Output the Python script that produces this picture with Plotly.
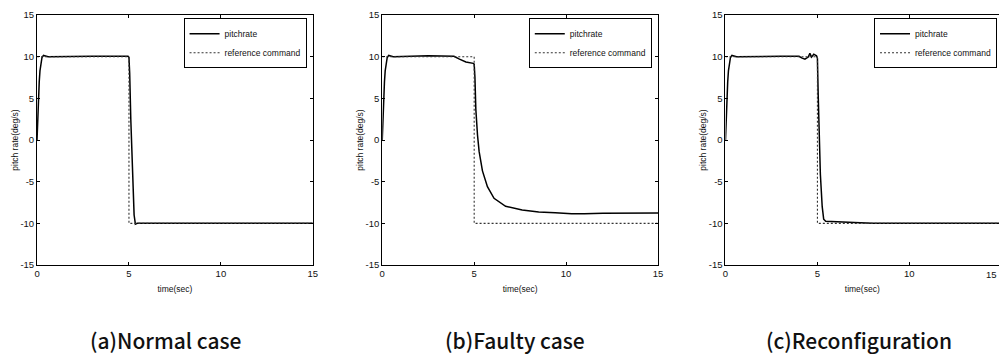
import plotly.graph_objects as go

# ---------------- data ----------------
t_ref = [0, 5, 5, 15]
q_ref = [10, 10, -10, -10]

t_normal = [0, 0.03, 0.07, 0.12, 0.16, 0.22, 0.27, 0.35, 0.45, 0.6, 3.0, 4.95, 5.0, 5.04,
            5.1, 5.2, 5.28, 5.35, 5.45, 6.0, 10.0, 15.0]
q_normal = [0, 2.5, 4.8, 7.0, 8.3, 9.3, 9.9, 10.15, 10.1, 10.0, 10.05, 10.05, 9.9, 8.0,
            2.5, -5.5, -9.0, -10.1, -10.0, -10.0, -10.0, -10.0]

t_faulty = [0, 0.03, 0.07, 0.12, 0.16, 0.22, 0.27, 0.35, 0.45, 0.6, 2.5, 3.9, 4.2, 4.55,
            4.95, 5.0, 5.04, 5.09, 5.18, 5.27, 5.45, 5.72, 6.08, 6.71, 7.61, 8.51, 9.41,
            10.3, 11.0, 12.0, 15.0]
q_faulty = [0, 2.5, 4.8, 7.0, 8.3, 9.3, 9.9, 10.15, 10.1, 10.0, 10.1, 10.05, 9.7, 9.37,
            9.2, 9.1, 7.6, 3.7, 0.6, -1.4, -3.7, -5.6, -7.0, -7.95, -8.4, -8.65, -8.72,
            -8.85, -8.85, -8.8, -8.75]

t_reconf = [0, 0.03, 0.07, 0.12, 0.16, 0.22, 0.27, 0.35, 0.45, 0.6, 3.0, 4.0, 4.14, 4.32,
            4.5, 4.59, 4.68, 4.8, 4.95, 5.0, 5.04, 5.09, 5.16, 5.26, 5.34, 5.45, 5.8, 6.3,
            7.0, 8.0, 15.0]
q_reconf = [0, 2.5, 4.8, 7.0, 8.3, 9.3, 9.9, 10.15, 10.1, 10.0, 10.05, 10.05, 9.85, 9.7,
            9.95, 10.4, 9.95, 10.3, 10.1, 9.8, 5.6, -0.2, -4.1, -8.0, -9.5, -9.75, -9.8,
            -9.8, -9.9, -10.0, -10.0]

panels = [(t_normal, q_normal), (t_faulty, q_faulty), (t_reconf, q_reconf)]
captions = ["(a)Normal case", "(b)Faulty case", "(c)Reconfiguration"]
x_ticks = [0, 5, 10, 15]
y_ticks = [-15, -10, -5, 0, 5, 10, 15]
y_tick_text = ["-15", "-10", "-5", "0", "5", "10", "15"]
series_names = ["pitchrate", "reference command"]

# ---------------- layout geometry (pixels) ----------------
W, H = 1004, 355
x_left_px = [34.3, 382.3, 728.3]
plot_w_px = 278.0
y_top_px, y_bot_px = 9.3, 267.3
legend_right_px = [306, 654, 1002]
caption_x_px = [164, 516, 863]
caption_y_px = 345

SANS = "Liberation Sans Narrow, Liberation Sans, Arial"
TICK_FONT = dict(family=SANS, size=9.5, color="#111")
TITLE_FONT = dict(family=SANS, size=8.5, color="#111")

fig = go.Figure()

layout = dict(
    width=W, height=H,
    margin=dict(l=0, r=0, t=0, b=0),
    paper_bgcolor="white", plot_bgcolor="white",
    showlegend=True,
)

annotations = []
for i, (t, q) in enumerate(panels):
    n = "" if i == 0 else str(i + 1)
    xa, ya = "x" + n, "y" + n
    leg = "legend" + n
    fig.add_trace(go.Scatter(x=t, y=q, mode="lines", name=series_names[0],
                             line=dict(color="black", width=1.5),
                             xaxis=xa, yaxis=ya, legend=leg))
    fig.add_trace(go.Scatter(x=t_ref, y=q_ref, mode="lines", name=series_names[1],
                             line=dict(color="#333", width=1.1, dash="2px,2px"),
                             xaxis=xa, yaxis=ya, legend=leg))

    x0 = x_left_px[i] / W
    x1_px = x_left_px[i] + plot_w_px
    clipped = x1_px > W
    if not clipped:
        dom = [x0, x1_px / W]
        xr = [0, 15]
    else:
        dom = [x0, 1.0]
        xr = [0, 15 * (W - x_left_px[i]) / plot_w_px]
        # last tick label "15" sits at the page edge (kept fully visible)
        annotations.append(dict(text="15", xref="paper", yref="paper",
                                x=1.0, y=1 - (y_bot_px + 2) / H,
                                xanchor="right", yanchor="top", showarrow=False,
                                font=TICK_FONT))

    axis_common = dict(showline=True, linecolor="black", linewidth=1,
                       ticks="inside", ticklen=3, tickwidth=1, tickcolor="black",
                       showgrid=False, zeroline=False, tickfont=TICK_FONT)
    layout["xaxis" + n] = dict(domain=dom, range=xr, anchor=ya, tickvals=x_ticks,
                               mirror="ticks",
                               title=dict(text="time(sec)", font=TITLE_FONT, standoff=7),
                               **axis_common)
    layout["yaxis" + n] = dict(domain=[1 - y_bot_px / H, 1 - y_top_px / H], range=[-15, 15],
                               anchor=xa, tickvals=y_ticks, ticktext=y_tick_text,
                               mirror=False if clipped else "ticks",
                               title=dict(text="pitch rate(deg/s)", font=TITLE_FONT, standoff=0),
                               **axis_common)
    layout[leg] = dict(x=legend_right_px[i] / W, y=1 - 12.7 / H, xanchor="right", yanchor="top",
                       bgcolor="white", bordercolor="black", borderwidth=1,
                       font=dict(family=SANS, size=8.5, color="#111"),
                       tracegroupgap=0)
    annotations.append(dict(text=captions[i], xref="paper", yref="paper",
                            x=caption_x_px[i] / W, y=1 - caption_y_px / H,
                            xanchor="center", yanchor="middle", showarrow=False,
                            font=dict(family="Noto Sans CJK KR, Noto Sans", size=21,
                                      weight=500, color="#111")))

layout["annotations"] = annotations
fig.update_layout(**layout)
fig.write_html("out.html")
